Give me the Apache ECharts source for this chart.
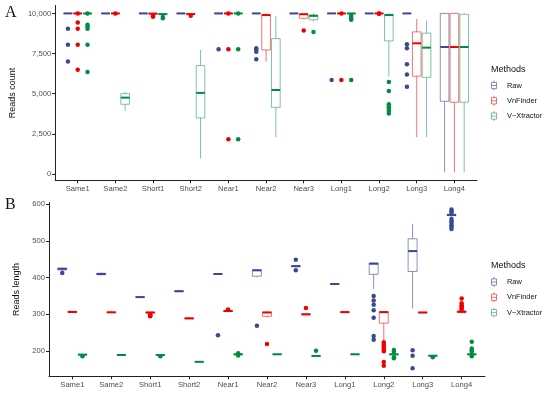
<!DOCTYPE html>
<html>
<head>
<meta charset="utf-8">
<script src="https://cdn.jsdelivr.net/npm/echarts@6/dist/echarts.min.js"></script>
<style>html,body{margin:0;padding:0;background:#fff;}#c{width:550px;height:395px;}</style>
</head>
<body>
<div id="c"></div>
<script>
// ---------- data ----------
const categories = ['Same1','Same2','Short1','Short2','Near1','Near2','Near3','Long1','Long2','Long3','Long4'];
const methods = ['Raw','VnFinder','V\u2212Xtractor'];
const countTicks = [0, 2500, 5000, 7500, 10000];
const lengthTicks = [200, 300, 400, 500, 600];

// Panel A: reads count, box stats [min, q1, median, q3, max]
const countRawBox = [
  [10000,10000,10000,10000,10000],[10000,10000,10000,10000,10000],[10000,10000,10000,10000,10000],
  [10000,10000,10000,10000,10000],[10000,10000,10000,10000,10000],[10000,10000,10000,10000,10000],
  [10000,10000,10000,10000,10000],[10000,10000,10000,10000,10000],[10000,10000,10000,10000,10000],
  [10000,10000,10000,10000,10000],[100,4530,7910,10000,10000]
];
const countRawOut = [[9050,8050,7000],[],[],[],[7770],[7830,7725,7620,7145],[],[5850],[],[8080,7830,6830,6190,5440],[]];
const countVnBox = [
  [10000,10000,10000,10000,10000],[10000,10000,10000,10000,10000],[9900,9950,9990,10000,10000],
  [9930,9950,9960,9990,10000],[10000,10000,10000,10000,10000],[7000,7725,9900,9910,10000],
  [9620,9700,9950,9960,10000],[10000,10000,10000,10000,10000],[10000,10000,10000,10000,10000],
  [2290,6090,8140,8850,9660],[100,4470,7910,10000,10000]
];
const countVnOut = [[9990,9430,9050,8050,6500],[9990],[9840,9800],[9860],[9990,7770,2160],[],[8930],[9990,5850],[9990,9980],[],[]];
const countVxBox = [
  [10000,10000,10000,10000,10000],[3925,4340,4755,5003,5110],[9900,9930,9960,9980,10000],
  [975,3490,5050,6750,7725],[10000,10000,10000,10000,10000],[2290,4150,5230,8430,9860],
  [9500,9600,9850,9900,10000],[9950,9980,10000,10000,10000],[6060,8290,9900,9950,10000],
  [2290,6020,7870,8770,9550],[100,4470,7910,9950,10000]
];
const countVxOut = [[9990,9300,9180,9050,8050,6350],[],[9780,9700],[],[9990,7770,2160],[],[8850],[9860,9700,9600,5850],[5730,5170,4340,4230,4150,4050,3920,3760],[],[]];

// Panel B: reads length
const lenRawBox = [
  [418,421,424,426,428],[406,408,410,412,414],[346,346.5,347,347.5,348],[361,362,363,364,365],
  [409,409.5,410,410.5,411],[401,404,420,421.5,423],[428,430,431.5,433,435],[381.5,382,382.6,383,383.5],
  [369,409,438,440,441],[316,417,472.5,506,547],[566,569,571,573,575]
];
const lenRawOut = [[413],[],[],[],[243],[269],[449,420],[],[350,338,326,311,291,241,231],[202,187,153],[586,581,577,560,554,549,543,538,533]];
const lenVnBox = [
  [304,305,306.5,308,309],[304,305,305.5,306,307],[302,303.5,305,306,307],[287,288,289,290,292],
  [307,308,309,310,311],[291,294.5,305,306,307],[298,299,300,301,302],[305,305.5,306,306.5,307],
  [228,276,306,307,308],[304,304.5,305,305.5,306],[303,305,307,309,311]
];
const lenVnOut = [[],[],[300,297,295],[],[313],[219],[317],[],[224,219,214,209,204,199,170,160],[],[343,330,325,321,317,314]];
const lenVxBox = [
  [188,189,190,191,192],[188,188.5,189,189.5,190],[187.5,188.5,189,190,190.5],[169.5,170,170.5,171,171.5],
  [189,190,191,192,193],[189.5,190.5,191,191.5,192.5],[185,186,186.5,187,188],[190,190.5,191,191.5,192],
  [188,189.5,191,192,193],[185,186,187,188,189],[189,190,191,192,193]
];
const lenVxOut = [[186],[],[186],[],[194,188],[],[201],[],[203,198,183,180],[183],[225,207,202,198,186]];

// ---------- styling ----------
const darkCol = ['#3B4992', '#EE0000', '#008B45'];
const lightCol = ['rgba(59,73,146,0.6)', 'rgba(238,0,0,0.55)', 'rgba(0,139,69,0.5)'];
const dodge = 0.26, boxHalf = 0.115;
const sans = 'Liberation Sans, Arial, Helvetica, sans-serif';
const idx = categories.map((c, i) => i);

function boxData(arr) { return arr.map((b, i) => [i].concat(b)); }
function outData(arr, k) {
  const d = [];
  arr.forEach((vals, i) => vals.forEach(v => d.push([i + (k - 1) * dodge, v])));
  return d;
}
function makeRender(k) {
  return function (params, api) {
    const i = api.value(0);
    const unit = api.size([1, 0])[0];
    const cx = api.coord([i, api.value(3)])[0] + (k - 1) * dodge * unit;
    const y = [1, 2, 3, 4, 5].map(d => api.coord([i, api.value(d)])[1]);
    const hw = boxHalf * unit;
    const ls = { stroke: lightCol[k], lineWidth: 1, fill: null };
    return { type: 'group', children: [
      { type: 'line', shape: { x1: cx, y1: y[3], x2: cx, y2: y[4] }, style: ls },
      { type: 'line', shape: { x1: cx, y1: y[1], x2: cx, y2: y[0] }, style: ls },
      { type: 'rect', shape: { x: cx - hw, y: y[3], width: 2 * hw, height: y[1] - y[3] }, style: { fill: '#fff', stroke: lightCol[k], lineWidth: 1 } },
      { type: 'line', shape: { x1: cx - hw, y1: y[2], x2: cx + hw, y2: y[2] }, style: { stroke: darkCol[k], lineWidth: 2 } }
    ]};
  };
}

const boxSets = [[countRawBox, countVnBox, countVxBox], [lenRawBox, lenVnBox, lenVxBox]];
const outSets = [[countRawOut, countVnOut, countVxOut], [lenRawOut, lenVnOut, lenVxOut]];

const series = [];
[0, 1].forEach(p => {
  methods.forEach((m, k) => {
    series.push({
      type: 'custom', name: m, xAxisIndex: p, yAxisIndex: p,
      itemStyle: { color: darkCol[k] },
      encode: { x: 0, y: [1, 2, 3, 4, 5] },
      renderItem: makeRender(k),
      data: boxData(boxSets[p][k]), silent: true
    });
  });
  methods.forEach((m, k) => {
    series.push({
      type: 'scatter', name: m, xAxisIndex: p, yAxisIndex: p,
      symbol: 'circle', symbolSize: 4.5,
      itemStyle: { color: darkCol[k], opacity: 1 },
      data: outData(outSets[p][k], k), silent: true, z: 3
    });
  });
});

const axisLineStyle = { color: '#222', width: 1 };
function xAxisFor(p) {
  return {
    type: 'value', gridIndex: p, min: -0.6, max: 10.6,
    axisLine: { show: true, onZero: false, lineStyle: axisLineStyle },
    axisTick: { show: true, customValues: idx, length: 3, lineStyle: axisLineStyle },
    axisLabel: { customValues: idx, formatter: v => categories[Math.round(v)], color: '#4D4D4D', fontSize: 7.6, fontFamily: sans, margin: 4.5 },
    splitLine: { show: false }
  };
}
function yAxisFor(p, mn, mx, ticks, name, fmt) {
  return {
    type: 'value', gridIndex: p, min: mn, max: mx,
    axisLine: { show: true, onZero: false, lineStyle: axisLineStyle },
    axisTick: { show: true, customValues: ticks, length: 3, lineStyle: axisLineStyle },
    axisLabel: { customValues: ticks, formatter: fmt, color: '#4D4D4D', fontSize: 7.6, fontFamily: sans, margin: 4 },
    splitLine: { show: false },
    name: name, nameLocation: 'middle', nameGap: 27,
    nameTextStyle: { color: '#111', fontSize: 9, fontFamily: sans }
  };
}

const keyIcon = 'path://M4,0L4,3M0,3L8,3L8,13L0,13ZM0,8L8,8M4,13L4,16';
function legendFor(top) {
  return {
    orient: 'vertical', left: 491, top: top, padding: 0,
    itemWidth: 8, itemHeight: 10, itemGap: 4.3,
    textStyle: { fontSize: 7.4, fontFamily: sans, color: '#111', padding: [0, 0, 0, 4], lineHeight: 10 },
    selectedMode: false,
    data: methods.map((m, k) => ({ name: m, icon: keyIcon, itemStyle: { color: 'rgba(255,255,255,0)', borderColor: lightCol[k], borderWidth: 1 } }))
  };
}

const option = {
  animation: false,
  backgroundColor: '#fff',
  title: [
    { text: 'A', left: 5, top: 5, padding: 0, textStyle: { fontFamily: 'Liberation Serif, Times New Roman, serif', fontSize: 16, fontWeight: 'normal', color: '#111' } },
    { text: 'B', left: 5, top: 197, padding: 0, textStyle: { fontFamily: 'Liberation Serif, Times New Roman, serif', fontSize: 16, fontWeight: 'normal', color: '#111' } },
    { text: 'Methods', left: 491, top: 65.5, padding: 0, textStyle: { fontFamily: sans, fontSize: 9, fontWeight: 'normal', color: '#111' } },
    { text: 'Methods', left: 491, top: 261, padding: 0, textStyle: { fontFamily: sans, fontSize: 9, fontWeight: 'normal', color: '#111' } }
  ],
  legend: [legendFor(80), legendFor(276.5)],
  grid: [
    { left: 49, top: 5.5, width: 428, height: 174.8 },
    { left: 49, top: 202.5, width: 436, height: 173.8 }
  ],
  xAxis: [xAxisFor(0), xAxisFor(1)],
  yAxis: [
    yAxisFor(0, -395, 10495, countTicks, 'Reads count', v => v.toLocaleString('en-US')),
    yAxisFor(1, 131, 605, lengthTicks, 'Reads length', v => String(v))
  ],
  series: series
};

const chart = echarts.init(document.getElementById('c'), null, { renderer: 'canvas' });
chart.setOption(option);
</script>
</body>
</html>
